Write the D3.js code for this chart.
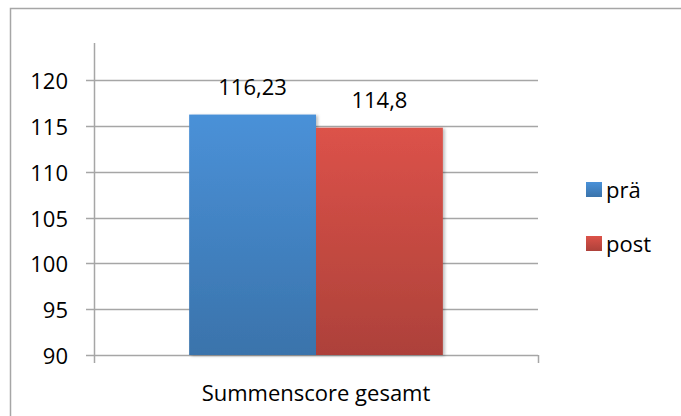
<!DOCTYPE html>
<html>
<head>
<meta charset="utf-8">
<script src="https://cdn.jsdelivr.net/npm/d3@7"></script>
<style>
  html, body { margin: 0; padding: 0; background: #fff; }
  svg { display: block; }
  text { font-family: "Open Sans", Lato, "Liberation Sans", sans-serif; fill: #000; }
</style>
</head>
<body>
<svg id="chart" width="681" height="416"></svg>
<script>
const categories = ["Summenscore gesamt"];
const seriesNames = ["prä", "post"];
const praValues = [116.23];
const postValues = [114.8];
const valueLabels = ["116,23", "114,8"];
const yTicks = [90, 95, 100, 105, 110, 115, 120];

const svg = d3.select("#chart");
const W = 681, H = 416;
const FS = 22;

// outer chart frame
svg.append("rect")
  .attr("x", 10.5).attr("y", 8.5)
  .attr("width", W + 20).attr("height", H + 20)
  .attr("fill", "#fff").attr("stroke", "#a6a6a6").attr("stroke-width", 1.5);

const plot = { left: 94, right: 538, top: 43, bottom: 355 };

const y = d3.scaleLinear().domain([90, 120]).range([plot.bottom, 80]);
const x0 = d3.scaleBand().domain(categories).range([plot.left, plot.right]);
const x1 = d3.scaleBand().domain(seriesNames)
  .range([0, x0.bandwidth()]).paddingInner(0).paddingOuter(0.75);

const defs = svg.append("defs");
const grads = {
  "prä": ["#4a91d8", "#3a73ab"],
  "post": ["#dc5249", "#ad413a"]
};
Object.entries(grads).forEach(([k, c], i) => {
  const g = defs.append("linearGradient").attr("id", "g" + i)
    .attr("x1", 0).attr("y1", 0).attr("x2", 0).attr("y2", 1);
  g.append("stop").attr("offset", "0%").attr("stop-color", c[0]);
  g.append("stop").attr("offset", "100%").attr("stop-color", c[1]);
});
const shadow = defs.append("filter").attr("id", "shadow")
  .attr("x", "-10%").attr("y", "-10%").attr("width", "130%").attr("height", "130%");
shadow.append("feDropShadow").attr("dx", 2).attr("dy", 1).attr("stdDeviation", 1.5)
  .attr("flood-color", "#000").attr("flood-opacity", 0.25);

// gridlines
svg.append("g").selectAll("line").data(yTicks).join("line")
  .attr("x1", plot.left - 8).attr("x2", plot.right)
  .attr("y1", d => Math.round(y(d)) + 0.5).attr("y2", d => Math.round(y(d)) + 0.5)
  .attr("stroke", "#a6a6a6").attr("stroke-width", 1.5);

// y axis line
svg.append("line")
  .attr("x1", plot.left + 0.5).attr("x2", plot.left + 0.5)
  .attr("y1", plot.top).attr("y2", plot.bottom + 8)
  .attr("stroke", "#a6a6a6").attr("stroke-width", 1.5);
// right category tick
svg.append("line")
  .attr("x1", plot.right + 0.5).attr("x2", plot.right + 0.5)
  .attr("y1", plot.bottom).attr("y2", plot.bottom + 8)
  .attr("stroke", "#a6a6a6").attr("stroke-width", 1.5);

// y tick labels
svg.append("g").selectAll("text").data(yTicks).join("text")
  .attr("x", 68).attr("y", d => y(d) + 9)
  .attr("text-anchor", "end").attr("font-size", FS)
  .text(d => d);

// bars
const seriesValues = { "prä": praValues, "post": postValues };
const bars = svg.append("g");
seriesNames.forEach((s, si) => {
  bars.selectAll(".b" + si).data(categories).join("rect")
    .attr("class", "b" + si)
    .attr("x", c => x0(c) + x1(s))
    .attr("y", (c, i) => y(seriesValues[s][i]))
    .attr("width", x1.bandwidth())
    .attr("height", (c, i) => y(90) - y(seriesValues[s][i]))
    .attr("fill", "url(#g" + si + ")")
    .attr("filter", "url(#shadow)");
});

// value labels
seriesNames.forEach((s, si) => {
  svg.append("g").selectAll("text").data(categories).join("text")
    .attr("x", c => x0(c) + x1(s) + x1.bandwidth() / 2)
    .attr("y", (c, i) => y(seriesValues[s][i]) - 20)
    .attr("text-anchor", "middle").attr("font-size", FS)
    .text(valueLabels[si]);
});

// category label
svg.append("g").selectAll("text").data(categories).join("text")
  .attr("x", c => x0(c) + x0.bandwidth() / 2).attr("y", 401)
  .attr("text-anchor", "middle").attr("font-size", FS)
  .text(c => c);

// legend
const legend = svg.append("g");
seriesNames.forEach((s, si) => {
  const ly = 182 + si * 54;
  legend.append("rect").attr("x", 586).attr("y", ly)
    .attr("width", 16).attr("height", 15).attr("fill", "url(#g" + si + ")");
  legend.append("text").attr("x", 606).attr("y", ly + 16)
    .attr("font-size", FS).text(s);
});
</script>
</body>
</html>
